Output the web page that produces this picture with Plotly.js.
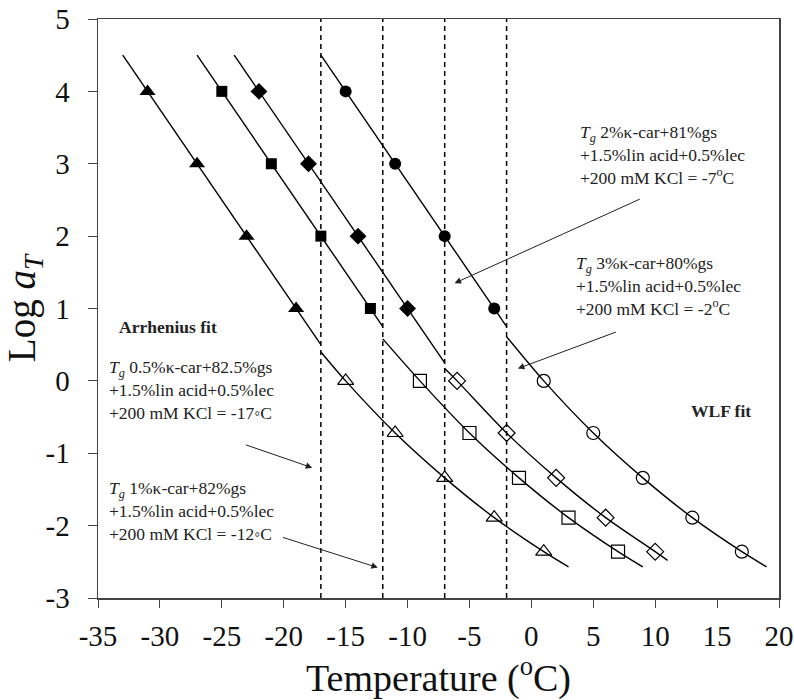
<!DOCTYPE html>
<html><head><meta charset="utf-8">
<script src="https://cdn.plot.ly/plotly-3.0.1.min.js"></script>
<style>body{margin:0;background:#fff}#chart{width:794px;height:700px}</style>
</head><body><div id="chart"></div>
<script>
// Filled points (Arrhenius region)
const triFilledX = [-31, -27, -23, -19], triFilledY = [4, 3, 2, 1];
const sqFilledX = [-25, -21, -17, -13], sqFilledY = [4, 3, 2, 1];
const diaFilledX = [-22, -18, -14, -10], diaFilledY = [4, 3, 2, 1];
const cirFilledX = [-15, -11, -7, -3], cirFilledY = [4, 3, 2, 1];
// Open points (WLF region)
const triOpenX = [-15, -11, -7, -3, 1], triOpenY = [0, -0.72, -1.34, -1.89, -2.36];
const sqOpenX = [-9, -5, -1, 3, 7], sqOpenY = [0, -0.72, -1.34, -1.89, -2.36];
const diaOpenX = [-6, -2, 2, 6, 10], diaOpenY = [0, -0.72, -1.34, -1.89, -2.36];
const cirOpenX = [1, 5, 9, 13, 17], cirOpenY = [0, -0.72, -1.34, -1.89, -2.36];
// Arrhenius fit lines (read endpoints)
const triArrX = [-33, -17], triArrY = [4.5, 0.5];
const sqArrX = [-27, -12], sqArrY = [4.5, 0.75];
const diaArrX = [-24, -7], diaArrY = [4.5, 0.25];
const cirArrX = [-17, -2], cirArrY = [4.5, 0.75];
// WLF fit curves (read points)
const triWlfX = [-17, -15, -11, -7, -3, 1, 3], triWlfY = [0.40, 0, -0.72, -1.34, -1.89, -2.36, -2.57];
const sqWlfX = [-12, -9, -5, -1, 3, 7, 9], sqWlfY = [0.58, 0, -0.72, -1.34, -1.89, -2.36, -2.57];
const diaWlfX = [-7, -6, -2, 2, 6, 10, 11], diaWlfY = [0.17, 0, -0.72, -1.34, -1.89, -2.36, -2.48];
const cirWlfX = [-2, 1, 5, 9, 13, 17, 19], cirWlfY = [0.61, 0, -0.72, -1.34, -1.89, -2.36, -2.57];
// Glass transition temperatures
const tgValues = [-17, -12, -7, -2];
const xTicks = [-35, -30, -25, -20, -15, -10, -5, 0, 5, 10, 15, 20];
const yTicks = [-3, -2, -1, 0, 1, 2, 3, 4, 5];
// Label texts
const Tg = '<i>T</i><sub><i>g</i></sub>';
const label2pct = [Tg + ' 2%κ-car+81%gs', '+1.5%lin acid+0.5%lec', '+200 mM KCl = -7<sup>o</sup>C'];
const label3pct = [Tg + ' 3%κ-car+80%gs', '+1.5%lin acid+0.5%lec', '+200 mM KCl = -2<sup>o</sup>C'];
const label05pct = [Tg + ' 0.5%κ-car+82.5%gs', '+1.5%lin acid+0.5%lec', '+200 mM KCl = -17◦C'];
const label1pct = [Tg + ' 1%κ-car+82%gs', '+1.5%lin acid+0.5%lec', '+200 mM KCl = -12◦C'];

const SERIF = 'Liberation Serif';
const lineStyle = {color: '#000', width: 1.4};
function lineTrace(x, y, spline) {
  return {x, y, mode: 'lines', type: 'scatter', line: Object.assign({}, lineStyle, spline ? {shape: 'spline', smoothing: 0.8} : {}), hoverinfo: 'skip', showlegend: false};
}
function markerTrace(x, y, symbol, size) {
  const open = symbol.endsWith('open');
  return {x, y, mode: 'markers', type: 'scatter', showlegend: false,
    marker: {symbol, size, color: '#000', line: {color: '#000', width: open ? 1.2 : 0}}};
}
const data = [
  lineTrace(triArrX, triArrY), lineTrace(sqArrX, sqArrY), lineTrace(diaArrX, diaArrY), lineTrace(cirArrX, cirArrY),
  lineTrace(triWlfX, triWlfY, true), lineTrace(sqWlfX, sqWlfY, true), lineTrace(diaWlfX, diaWlfY, true), lineTrace(cirWlfX, cirWlfY, true),
  markerTrace(triFilledX, triFilledY, 'triangle-up', 14),
  markerTrace(sqFilledX, sqFilledY, 'square', 11),
  markerTrace(diaFilledX, diaFilledY, 'diamond', 13),
  markerTrace(cirFilledX, cirFilledY, 'circle', 12),
  markerTrace(triOpenX, triOpenY, 'triangle-up-open', 14),
  markerTrace(sqOpenX, sqOpenY, 'square-open', 13),
  markerTrace(diaOpenX, diaOpenY, 'diamond-open', 13),
  markerTrace(cirOpenX, cirOpenY, 'circle-open', 13)
];

const shapes = tgValues.map(v => ({type: 'line', xref: 'x', yref: 'y', x0: v, x1: v, y0: -3, y1: 5,
  line: {color: '#000', width: 1.5, dash: '5px,4px'}}));

const tf = {family: SERIF, size: 17.5, color: '#222'};
function txt(x, y, text, extra) {
  return Object.assign({x, y, xref: 'x', yref: 'y', text, showarrow: false, xanchor: 'left', yanchor: 'middle', align: 'left', font: tf}, extra || {});
}
function block(x, yMid, lines) {
  return txt(x, yMid, lines.join('<br>'));
}
function arrow(ax, ay, x, y) {
  return {x, y, ax, ay, xref: 'x', yref: 'y', axref: 'x', ayref: 'y', text: ' ', showarrow: true,
    arrowhead: 2, arrowsize: 1.3, arrowwidth: 1, arrowcolor: '#222'};
}
const annotations = [
  block(3.74, 3.12, label2pct),
  block(3.42, 1.31, label3pct),
  block(-34.27, -0.13, label05pct),
  block(-34.27, -1.80, label1pct),
  txt(-33.46, 0.75, '<b>Arrhenius fit</b>'),
  txt(12.72, -0.41, '<b>WLF fit</b>'),
  arrow(9.0, 2.53, -6.2, 1.35),
  arrow(7.07, 0.69, -1.09, 0.17),
  arrow(-23.3, -0.87, -17.7, -1.2),
  arrow(-20.3, -2.15, -12.4, -2.58)
];

const axisFont = {family: SERIF, size: 29, color: '#111'};
const layout = {
  width: 794, height: 700,
  margin: {l: 98, r: 15, t: 19, b: 102},
  paper_bgcolor: '#fff', plot_bgcolor: '#fff',
  showlegend: false,
  font: {family: SERIF},
  xaxis: {range: [-35, 20], tickvals: xTicks, ticktext: xTicks.map(String), ticks: 'outside', ticklen: 8, tickcolor: '#444',
    showline: true, linecolor: '#444', linewidth: 1.5, mirror: true, showgrid: false, zeroline: false,
    tickfont: axisFont, ticklabelstandoff: 4,
    title: {text: 'Temperature (<sup>o</sup>C)', font: {family: SERIF, size: 38, color: '#111'}, standoff: 8}},
  yaxis: {range: [-3, 5], tickvals: yTicks, ticktext: yTicks.map(String), ticks: 'outside', ticklen: 9, tickcolor: '#444',
    showline: true, linecolor: '#444', linewidth: 1.5, mirror: true, showgrid: false, zeroline: false,
    tickfont: axisFont, ticklabelstandoff: 12,
    title: {text: 'Log <i>a</i><sub><i>T</i></sub>', font: {family: SERIF, size: 39, color: '#111'}, standoff: 6}},
  shapes, annotations
};
Plotly.newPlot('chart', data, layout, {displayModeBar: false, staticPlot: true});
</script></body></html>
